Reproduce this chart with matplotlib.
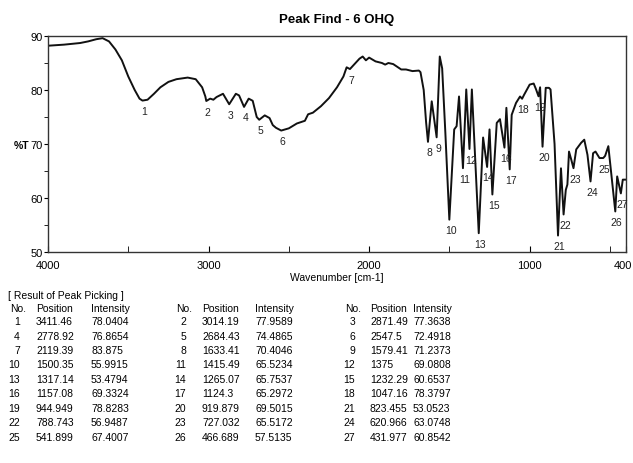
import matplotlib
matplotlib.use("Agg")
import matplotlib.pyplot as plt
import matplotlib.transforms as mtransforms
from matplotlib.ticker import MultipleLocator, FixedLocator

plt.rcParams['font.family'] = ['Liberation Sans', 'DejaVu Sans']

# traced spectrum (wavenumber, %T)
wavenumber = [4000, 3900, 3800, 3750, 3700, 3660, 3620, 3580, 3540, 3500, 3460, 3430,
              3411.46, 3380, 3340, 3300, 3250, 3200, 3130, 3080, 3040, 3020, 3014.19,
              2990, 2970, 2950, 2910, 2871.49, 2830, 2810, 2778.92, 2750, 2725, 2700,
              2684.43, 2650, 2620, 2600, 2580, 2547.5, 2500, 2450, 2400, 2380, 2350,
              2300, 2250, 2200, 2160, 2140, 2119.39, 2100, 2060, 2040, 2020, 2000,
              1960, 1920, 1900, 1880, 1850, 1820, 1800, 1770, 1730, 1690, 1680, 1660,
              1645, 1633.41, 1610, 1579.41, 1560, 1545, 1525, 1500.35, 1470, 1455,
              1440, 1415.49, 1395, 1375, 1360, 1317.14, 1290, 1265.07, 1250, 1232.29,
              1205, 1185, 1157.08, 1145, 1124.3, 1112, 1085, 1060, 1047.16, 1035,
              1000, 975, 960, 944.949, 935, 919.879, 900, 880, 870, 845, 823.455,
              805, 788.743, 775, 765, 755, 740, 727.032, 710, 680, 660, 640, 620.966,
              605, 590, 565, 541.899, 530, 510, 490, 466.689, 455, 431.977, 420, 400]
transmittance = [88.2, 88.4, 88.7, 89.0, 89.4, 89.6, 89.0, 87.5, 85.5, 82.5, 80.0, 78.4,
                 78.04, 78.2, 79.3, 80.5, 81.5, 82.0, 82.3, 82.0, 80.5, 78.8, 77.96,
                 78.4, 78.2, 78.7, 79.3, 77.36, 79.3, 79.0, 76.87, 78.4, 78.0, 75.0,
                 74.49, 75.3, 74.8, 73.5, 73.0, 72.49, 72.9, 73.8, 74.3, 75.5, 75.8,
                 77.0, 78.5, 80.5, 82.5, 84.2, 83.88, 84.5, 85.8, 86.2, 85.5, 86.0,
                 85.3, 85.0, 84.7, 85.0, 84.8, 84.2, 83.8, 83.8, 83.5, 83.6, 83.3, 80.0,
                 74.0, 70.4, 77.9, 71.24, 86.2, 84.0, 72.0, 55.99, 72.7, 73.3,
                 78.8, 65.52, 80.1, 69.08, 80.1, 53.48, 71.2, 65.75, 72.7, 60.65,
                 73.9, 74.6, 69.33, 76.7, 65.3, 75.4, 77.6, 78.8, 78.38, 79.1,
                 81.0, 81.2, 80.1, 78.83, 80.5, 69.5, 80.4, 80.4, 80.1, 70.0, 53.05,
                 65.5, 56.95, 61.5, 62.5, 68.6, 67.0, 65.52, 69.0, 70.2, 70.8, 68.0, 63.07,
                 68.3, 68.6, 67.4, 67.4, 67.8, 69.6, 64.0, 57.51, 64.0, 60.85, 63.4, 63.4]

# peak picking table
peak_no = list(range(1, 28))
peak_pos = [3411.46, 3014.19, 2871.49, 2778.92, 2684.43, 2547.5, 2119.39, 1633.41, 1579.41,
            1500.35, 1415.49, 1375, 1317.14, 1265.07, 1232.29, 1157.08, 1124.3, 1047.16,
            944.949, 919.879, 823.455, 788.743, 727.032, 620.966, 541.899, 466.689, 431.977]
peak_int = [78.0404, 77.9589, 77.3638, 76.8654, 74.4865, 72.4918, 83.875, 70.4046, 71.2373,
            55.9915, 65.5234, 69.0808, 53.4794, 65.7537, 60.6537, 69.3324, 65.2972, 78.3797,
            78.8283, 69.5015, 53.0523, 56.9487, 65.5172, 63.0748, 67.4007, 57.5135, 60.8542]

W, H = 633, 464
fig = plt.figure(figsize=(W / 100, H / 100), dpi=100)
ax = fig.add_axes([48 / W, 1 - 253 / H, (626 - 48) / W, (253 - 37) / H])

ax.plot(wavenumber, transmittance, color='#111111', lw=1.4)
for n, p, v in zip(peak_no, peak_pos, peak_int):
    ax.annotate(str(n), (p, v), xytext=(1, -4), textcoords='offset points',
                ha='center', va='top', fontsize=7.5, color='#222222')

ax.set_xlim(4000, 400)
ax.set_ylim(50, 90)
ax.xaxis.set_major_locator(FixedLocator([4000, 3000, 2000, 1000, 400]))
ax.xaxis.set_minor_locator(FixedLocator([3500, 2500, 1500, 500]))
ax.yaxis.set_major_locator(MultipleLocator(10))
ax.yaxis.set_minor_locator(MultipleLocator(5))
ax.tick_params(axis='x', which='both', direction='in', length=4, labelsize=8, pad=6)
ax.tick_params(axis='y', which='both', direction='out', length=3, labelsize=8, pad=1)
for s in ax.spines.values():
    s.set_linewidth(1.0)
    s.set_color('#333333')

# keep the right-most tick label inside the picture
fig.canvas.draw()
last = ax.get_xticklabels()[-1]
last.set_horizontalalignment('right')
last.set_transform(last.get_transform() + mtransforms.ScaledTranslation(6 / 100, 0, fig.dpi_scale_trans))

ax.set_title('Peak Find - 6 OHQ', fontsize=9.5, fontweight='bold', pad=10)
ax.set_xlabel('Wavenumber [cm-1]', fontsize=7.5, labelpad=1)
fig.text(14 / W, 1 - 146 / H, '%T', fontsize=7.5, fontweight='bold', va='center')


def px(x, y):
    return x / W, 1 - y / H


fs = 7.5
fig.text(*px(8, 296), '[ Result of Peak Picking ]', fontsize=fs, va='center')
groups = [(20, 36, 91), (186, 202, 255), (355, 370, 413)]
for g, (xn, xp, xi) in enumerate(groups):
    fig.text(*px(xn - 10, 309), 'No.', fontsize=fs, va='center')
    fig.text(*px(xp, 309), 'Position', fontsize=fs, va='center')
    fig.text(*px(xi, 309), 'Intensity', fontsize=fs, va='center')
    for r in range(9):
        k = 3 * r + g
        y = 322 + 14.5 * r
        fig.text(*px(xn, y), str(peak_no[k]), fontsize=fs, va='center', ha='right')
        fig.text(*px(xp, y), f"{peak_pos[k]:g}", fontsize=fs, va='center')
        fig.text(*px(xi, y), f"{peak_int[k]:g}", fontsize=fs, va='center')

fig.savefig('out.png', dpi=100)
